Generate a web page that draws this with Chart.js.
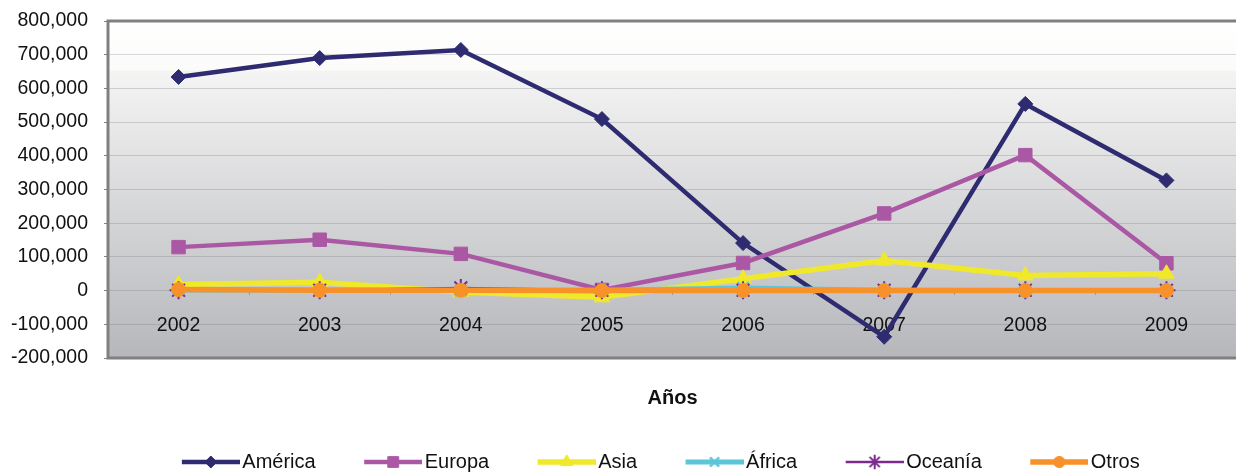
<!DOCTYPE html>
<html lang="es">
<head>
<meta charset="utf-8">
<title>Años</title>
<script src="https://cdn.jsdelivr.net/npm/chart.js@4.4.1/dist/chart.umd.min.js"></script>
<style>
  html, body { margin: 0; padding: 0; background: #fff; overflow: hidden; }
  #wrap { width: 1248px; height: 472px; }
</style>
</head>
<body>
<div id="wrap"><canvas id="chart" width="1248" height="472"></canvas></div>
<script>
const years = ['2002', '2003', '2004', '2005', '2006', '2007', '2008', '2009'];

const america = [634000, 690000, 714000, 509000, 141000, -137000, 554000, 327000];
const europa  = [129000, 151000, 109000, 2000, 82000, 229000, 402000, 81000];
const asia    = [18000, 25000, -4000, -20000, 35000, 89000, 45000, 50000];
const africa  = [2000, 2000, 0, 1000, 8000, 1000, 0, 0];
const oceania = [1000, 1000, 8000, 1000, 1000, 1000, 1000, 1000];
const otros   = [3000, 1000, 1000, 0, 0, 0, 0, 0];

const yTicks = [-200000, -100000, 0, 100000, 200000, 300000, 400000, 500000, 600000, 700000, 800000];

const FONT = "'Liberation Sans', Arial, Helvetica, sans-serif";
Chart.defaults.font.family = FONT;
Chart.defaults.font.size = 19.5;
Chart.defaults.color = '#111';

const series = [
  { label: 'América', data: america, color: '#2e2b70', width: 4.5, style: 'rectRot', radius: 7.5, pbw: 1 },
  { label: 'Europa', data: europa, color: '#ab58a4', width: 4.5, style: 'rect', radius: 9.5, pbw: 1 },
  { label: 'Asia', data: asia, color: '#f0e82a', width: 5.5, style: 'triangle', radius: 9, pbw: 1 },
  { label: 'África', data: africa, color: '#5cc6d8', width: 5, style: 'crossRot', radius: 8, pbw: 2.5 },
  { label: 'Oceanía', data: oceania, color: '#7a2b8c', width: 2.5, style: 'star', radius: 9, pbw: 2 },
  { label: 'Otros', data: otros, color: '#f7922b', width: 5.5, style: 'circle', radius: 7, pbw: 1 },
];

// icono de leyenda: línea con marcador en el centro (estilo Excel)
function legendIcon(s) {
  const c = document.createElement('canvas');
  c.width = 104; c.height = 20;
  const g = c.getContext('2d');
  g.strokeStyle = s.color;
  g.lineWidth = s.width;
  g.beginPath();
  g.moveTo(46, 10);
  g.lineTo(104, 10);
  g.stroke();
  g.fillStyle = s.color;
  g.strokeStyle = s.color;
  g.lineWidth = s.pbw;
  Chart.helpers.drawPoint(g, { pointStyle: s.style, radius: s.radius * 0.8, borderWidth: s.pbw, rotation: 0 }, 75, 10);
  return c;
}
const icons = series.map(legendIcon);

const plotBg = {
  id: 'plotBg',
  // la leyenda de Excel no está centrada en el lienzo: se desplaza a la derecha
  afterLayout(chart) {
    chart.legend.left = 35;
  },
  beforeDraw(chart) {
    const { ctx, chartArea: a } = chart;
    const g = ctx.createLinearGradient(0, a.top, 0, a.bottom);
    g.addColorStop(0, '#ffffff');
    g.addColorStop(0.145, '#fbfbfa');
    g.addColorStop(0.15, '#f4f4f4');
    g.addColorStop(1, '#b6b7bb');
    ctx.save();
    ctx.fillStyle = g;
    ctx.fillRect(a.left, a.top, a.right - a.left, a.bottom - a.top);
    ctx.restore();
  },
  beforeDatasetsDraw(chart) {
    const { ctx, chartArea: a } = chart;
    ctx.save();
    ctx.strokeStyle = '#808080';
    ctx.lineWidth = 3;
    ctx.beginPath();
    ctx.moveTo(a.right + 2, a.top);
    ctx.lineTo(a.left, a.top);
    ctx.lineTo(a.left, a.bottom);
    ctx.lineTo(a.right + 2, a.bottom);
    ctx.stroke();
    ctx.restore();
  }
};

new Chart(document.getElementById('chart'), {
  type: 'line',
  data: {
    labels: years,
    datasets: series.map((s, i) => ({
      label: s.label,
      data: s.data,
      borderColor: s.color,
      backgroundColor: s.color,
      borderWidth: s.width,
      pointStyle: s.style,
      pointRadius: s.radius,
      pointHoverRadius: s.radius,
      pointBackgroundColor: s.color,
      pointBorderColor: s.color,
      pointBorderWidth: s.pbw,
      tension: 0,
      fill: false,
      order: series.length - i,
    })),
  },
  options: {
    responsive: false,
    animation: false,
    layout: { padding: { top: 21, left: 0, right: 0, bottom: 0 } },
    plugins: {
      tooltip: { enabled: false },
      legend: {
        position: 'bottom',
        maxHeight: 30,
        labels: {
          usePointStyle: true,
          pointStyleWidth: 89,
          padding: 10,
          color: '#111',
          font: { size: 20 },
          sort: (a, b) => a.datasetIndex - b.datasetIndex,
          generateLabels(chart) {
            const items = Chart.defaults.plugins.legend.labels.generateLabels(chart);
            items.forEach((it) => { it.pointStyle = icons[it.datasetIndex]; });
            return items;
          },
        },
      },
    },
    scales: {
      x: {
        type: 'category',
        position: 'bottom',
        offset: true,
        grid: { display: false, drawTicks: false },
        border: { display: false },
        ticks: { display: false },
        title: {
          display: true,
          text: 'Años',
          color: '#111',
          font: { size: 20, weight: 'bold' },
          padding: { top: 0, bottom: 32 },
        },
        afterFit: (scale) => { scale.height = 84; },
      },
      x2: {
        type: 'category',
        labels: years,
        position: { y: 0 },
        offset: true,
        grid: { display: true, drawOnChartArea: false, drawTicks: true, tickLength: 4, color: '#9a9a9a', offset: true },
        border: { display: false },
        ticks: { padding: 19, color: '#111', maxRotation: 0, autoSkip: false },
      },
      y: {
        type: 'linear',
        min: -200000,
        max: 800000,
        afterBuildTicks: (scale) => { scale.ticks = yTicks.map((v) => ({ value: v })); },
        afterFit: (scale) => { scale.width = 108; },
        grid: {
          color: 'rgba(110,110,120,0.26)',
          tickColor: '#808080',
          tickLength: 18,
          tickBorderDash: [0, 14, 4, 40],
          lineWidth: 1,
        },
        border: { display: false },
        ticks: {
          padding: 2,
          color: '#111',
          callback: (v) => v.toLocaleString('en-US'),
        },
      },
    },
  },
  plugins: [plotBg],
});
</script>
</body>
</html>
